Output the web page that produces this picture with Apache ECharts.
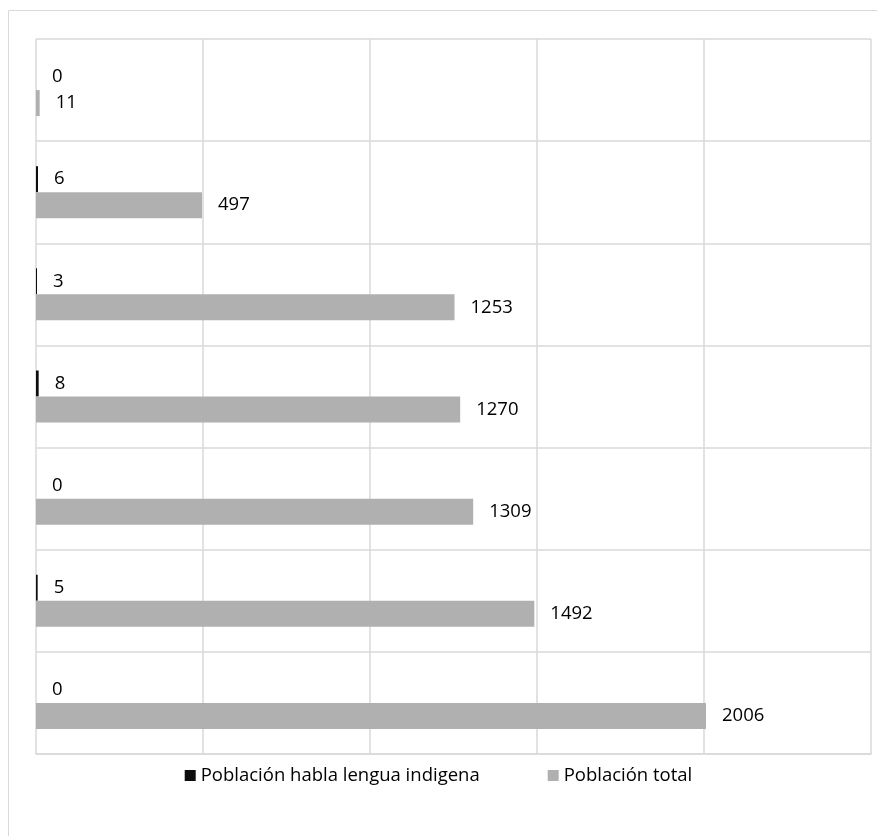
<!DOCTYPE html>
<html>
<head>
<meta charset="utf-8">
<script src="https://cdn.jsdelivr.net/npm/echarts@6/dist/echarts.min.js"></script>
<style>
  html, body { margin: 0; padding: 0; background: #fff; }
  #chart { width: 877px; height: 836px; }
</style>
</head>
<body>
<div id="chart"></div>
<script>
// Categories listed top to bottom (unnamed groups)
const categories = ['1', '2', '3', '4', '5', '6', '7'];
const indigenousSpeakers = [0, 6, 3, 8, 0, 5, 0];
const totalPopulation = [11, 497, 1253, 1270, 1309, 1492, 2006];
const seriesNames = ['Población habla lengua indigena', 'Población total'];
const valueTicks = { min: 0, max: 2500, interval: 500 };

const FONT = 'Open Sans';
const gridColor = '#d9d9d9';

const chart = echarts.init(document.getElementById('chart'));

const labelStyle = {
  show: true,
  position: 'right',
  distance: 16,
  color: '#000',
  fontFamily: FONT,
  fontSize: 18.5
};

chart.setOption({
  animation: false,
  backgroundColor: '#fff',
  graphic: [{
    type: 'rect',
    shape: { x: 8.5, y: 10.5, width: 1000, height: 1000 },
    style: { fill: 'none', stroke: gridColor, lineWidth: 1 },
    silent: true
  }],
  grid: { left: 36, right: 6, top: 39, bottom: 82 },
  legend: {
    bottom: 46,
    left: 'center',
    itemGap: 68,
    itemWidth: 11,
    itemHeight: 11,
    itemStyle: { borderWidth: 0 },
    icon: 'rect',
    textStyle: { fontFamily: FONT, fontSize: 18.5, color: '#000' },
    data: seriesNames
  },
  xAxis: {
    type: 'value',
    min: valueTicks.min,
    max: valueTicks.max,
    interval: valueTicks.interval,
    axisLabel: { show: false },
    axisTick: { show: false },
    axisLine: { show: true, lineStyle: { color: gridColor, width: 1.5 } },
    splitLine: { show: true, lineStyle: { color: gridColor, width: 1.5 } }
  },
  yAxis: {
    type: 'category',
    inverse: true,
    data: categories,
    axisLabel: { show: false },
    axisTick: { show: false },
    axisLine: { show: false },
    splitLine: { show: true, lineStyle: { color: gridColor, width: 1.5 } }
  },
  series: [
    {
      name: seriesNames[0],
      type: 'bar',
      data: indigenousSpeakers,
      barWidth: 26,
      barGap: '0%',
      itemStyle: { color: '#0d0d0d' },
      label: labelStyle
    },
    {
      name: seriesNames[1],
      type: 'bar',
      data: totalPopulation,
      barWidth: 26,
      barGap: '0%',
      itemStyle: { color: '#b0b0b0' },
      label: labelStyle
    }
  ]
});
</script>
</body>
</html>
